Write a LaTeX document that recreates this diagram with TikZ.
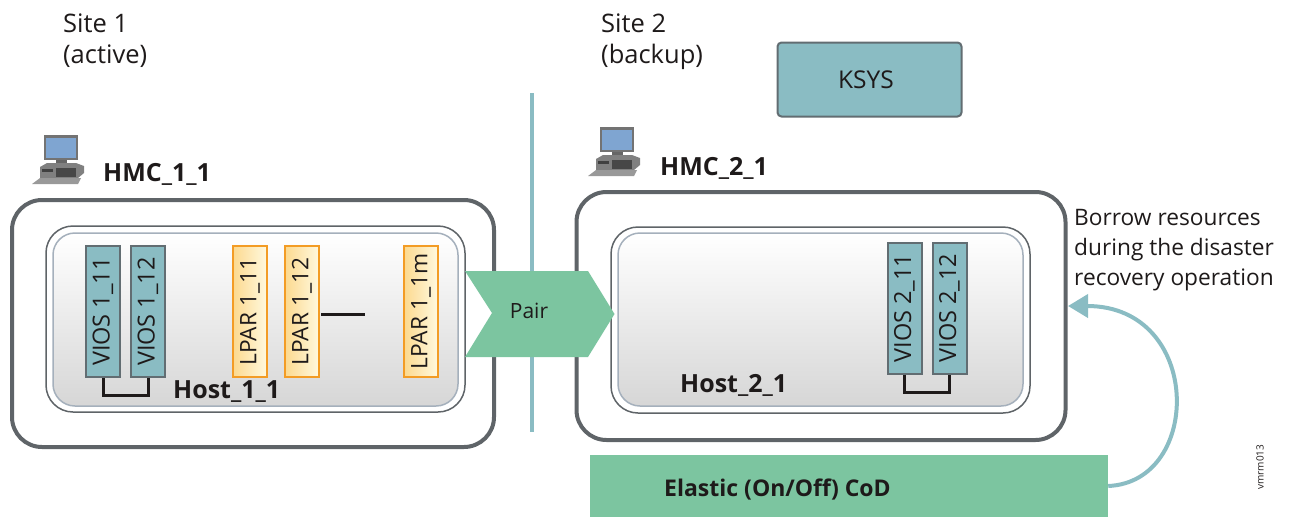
\documentclass[tikz,border=0pt]{standalone}
\usepackage{fontspec}
\setmainfont{Open Sans}
\usetikzlibrary{arrows.meta}
\definecolor{tealfill}{HTML}{8ABCC3}
\definecolor{tealedge}{HTML}{626D72}
\definecolor{greenfill}{HTML}{7CC5A0}
\definecolor{slateline}{HTML}{5F6468}
\definecolor{hostline}{HTML}{A5B0BC}
\definecolor{lparedge}{HTML}{F39C25}
\definecolor{lpartop}{HTML}{FFF9DF}
\definecolor{lparbot}{HTML}{FCD98F}
\definecolor{inkblack}{HTML}{1E1A1A}
\definecolor{screenblue}{HTML}{7FA5D1}
\tikzset{
    sitetext/.style={align=left,anchor=north west,inner sep=0pt,font=\fontsize{25.5}{31}\selectfont,text=inkblack},
    boldtext/.style={inner sep=0pt,font=\fontsize{25}{28}\selectfont\bfseries,text=inkblack},
    sitebox/.style={draw=slateline,line width=4pt,rounded corners=30pt,inner sep=0pt,fill=white},
    hostouter/.style={draw=slateline,line width=1.5pt,rounded corners=27pt,inner sep=0pt,fill=white,minimum width=419pt,minimum height=186pt},
    hostinner/.style={draw=hostline,line width=1.5pt,rounded corners=22pt,inner sep=0pt,minimum width=405pt,minimum height=173pt,
        top color=white,middle color=black!6,bottom color=black!16},
    viosbox/.style={draw=tealedge,line width=2pt,fill=tealfill,rotate=90,inner sep=0pt,minimum width=131pt,minimum height=34pt,
        font=\fontsize{23.5}{28}\selectfont,text=inkblack},
    lparbox/.style={draw=lparedge,line width=2pt,rotate=90,inner sep=0pt,minimum width=131pt,minimum height=34pt,
        left color=lparbot,right color=lpartop,font=\fontsize{22.7}{28}\selectfont,text=inkblack},
    bracketline/.style={draw=inkblack,line width=3pt},
    hmcicon/.pic={
        \fill[black!55] (12,0) -- (46,0) -- (46,25) -- (12,25) -- cycle;
        \fill[screenblue] (14,3) rectangle (44,23);
        \fill[black!60] (24,25) rectangle (35,29);
        \fill[black!50] (8,32) -- (15,28) -- (44,28) -- (52,31) -- (52,38) -- (46,43) -- (8,43) -- cycle;
        \fill[black!72] (24,33) rectangle (44,42);
        \fill[black!75] (10,34) rectangle (21,37);
        \fill[black!40] (0,49) -- (8,43) -- (49,43) -- (46,49) -- cycle;
    }
}
\begin{document}
\begin{tikzpicture}[x=1pt,y=-1pt]
    \useasboundingbox (0,0) rectangle (1289,517);

    % site titles
    \node[sitetext] (site1) at (63,14) {Site 1\\(active)};
    \node[sitetext] (site2) at (601,14) {Site 2\\(backup)};

    \node[draw=tealedge,line width=2pt,fill=tealfill,rounded corners=4pt,minimum width=184pt,minimum height=74pt,inner sep=0pt] (ksys) at (869.5,79.5) {};
    \node[inner sep=0pt,font=\fontsize{24.5}{28}\selectfont,text=inkblack] (ksystext) at (866,80) {KSYS};

    \coordinate (divtop) at (532,93);
    \coordinate (divbot) at (532,432);
    \draw[tealfill,line width=4pt] (divtop) -- (divbot);

    % site 1
    \pic at (32,135) {hmcicon};
    \node[boldtext,anchor=west] (hmc11) at (103,174) {HMC\_1\_1};
    \node[sitebox,minimum width=482pt,minimum height=247pt] (box1) at (253,323.5) {};
    \node[hostouter] (host1out) at (255.5,319) {};
    \node[hostinner] (host1in) at (255.5,319.5) {};
    \node[viosbox] (vios11) at (103,311.5) {VIOS 1\_11};
    \node[viosbox] (vios12) at (148,311.5) {VIOS 1\_12};
    \node[lparbox] (lpar11) at (250,311.5) {LPAR 1\_11};
    \node[lparbox] (lpar12) at (302,311.5) {LPAR 1\_12};
    \node[lparbox] (lpar1m) at (421,311.5) {LPAR 1\_1m};
    \node[boldtext,anchor=west] (host11) at (173,392) {Host\_1\_1};
    \draw[bracketline] (vios11.west) -- ++(0,17) -| (vios12.west);
    \coordinate (dashleft) at (321,314);
    \coordinate (dashright) at (365,314);
    \draw[bracketline] (dashleft) -- (dashright);

    % site 2
    \pic at (588,127) {hmcicon};
    \node[boldtext,anchor=west] (hmc21) at (660,168) {HMC\_2\_1};
    \node[sitebox,minimum width=489pt,minimum height=248pt] (box2) at (821,316) {};
    \node[hostouter] (host2out) at (820.5,320) {};
    \node[hostinner] (host2in) at (820.5,319.5) {};
    \node[viosbox] (vios21) at (904.5,308) {VIOS 2\_11};
    \node[viosbox] (vios22) at (949.5,308) {VIOS 2\_12};
    \node[boldtext,anchor=west] (host21) at (680,385) {Host\_2\_1};
    \draw[bracketline] (vios21.west) -- ++(0,18) -| (vios22.west);

    % pair
    \fill[greenfill] (465,271) -- (588,271) -- (614.5,314) -- (588,357) -- (465,357) -- (492,313) -- cycle;
    \node[inner sep=0pt,font=\fontsize{21}{26}\selectfont,text=inkblack] (pair) at (529,311) {Pair};

    % elastic
    \node[fill=greenfill,minimum width=518pt,minimum height=62pt,inner sep=0pt] (elastic) at (849,486) {};
    \node[boldtext,anchor=west,font=\fontsize{23}{26}\selectfont\bfseries] (cod) at (664,490) {Elastic (On/Off) CoD};
    \node[sitetext,anchor=north west,font=\fontsize{22.7}{30}\selectfont] (borrow) at (1074,209) {Borrow resources\\during the disaster\\recovery operation};
    \coordinate (borrowtip) at (1068,306);
    \draw[tealfill,line width=4pt,-{Triangle[length=20pt,width=23pt]}] (elastic.east) .. controls (1203,482) and (1203,306) .. (borrowtip);

    \node[rotate=90,inner sep=0pt,font=\fontsize{10}{12}\selectfont,text=inkblack] (vmrm) at (1260,467) {vmrm013};
\end{tikzpicture}
\end{document}
